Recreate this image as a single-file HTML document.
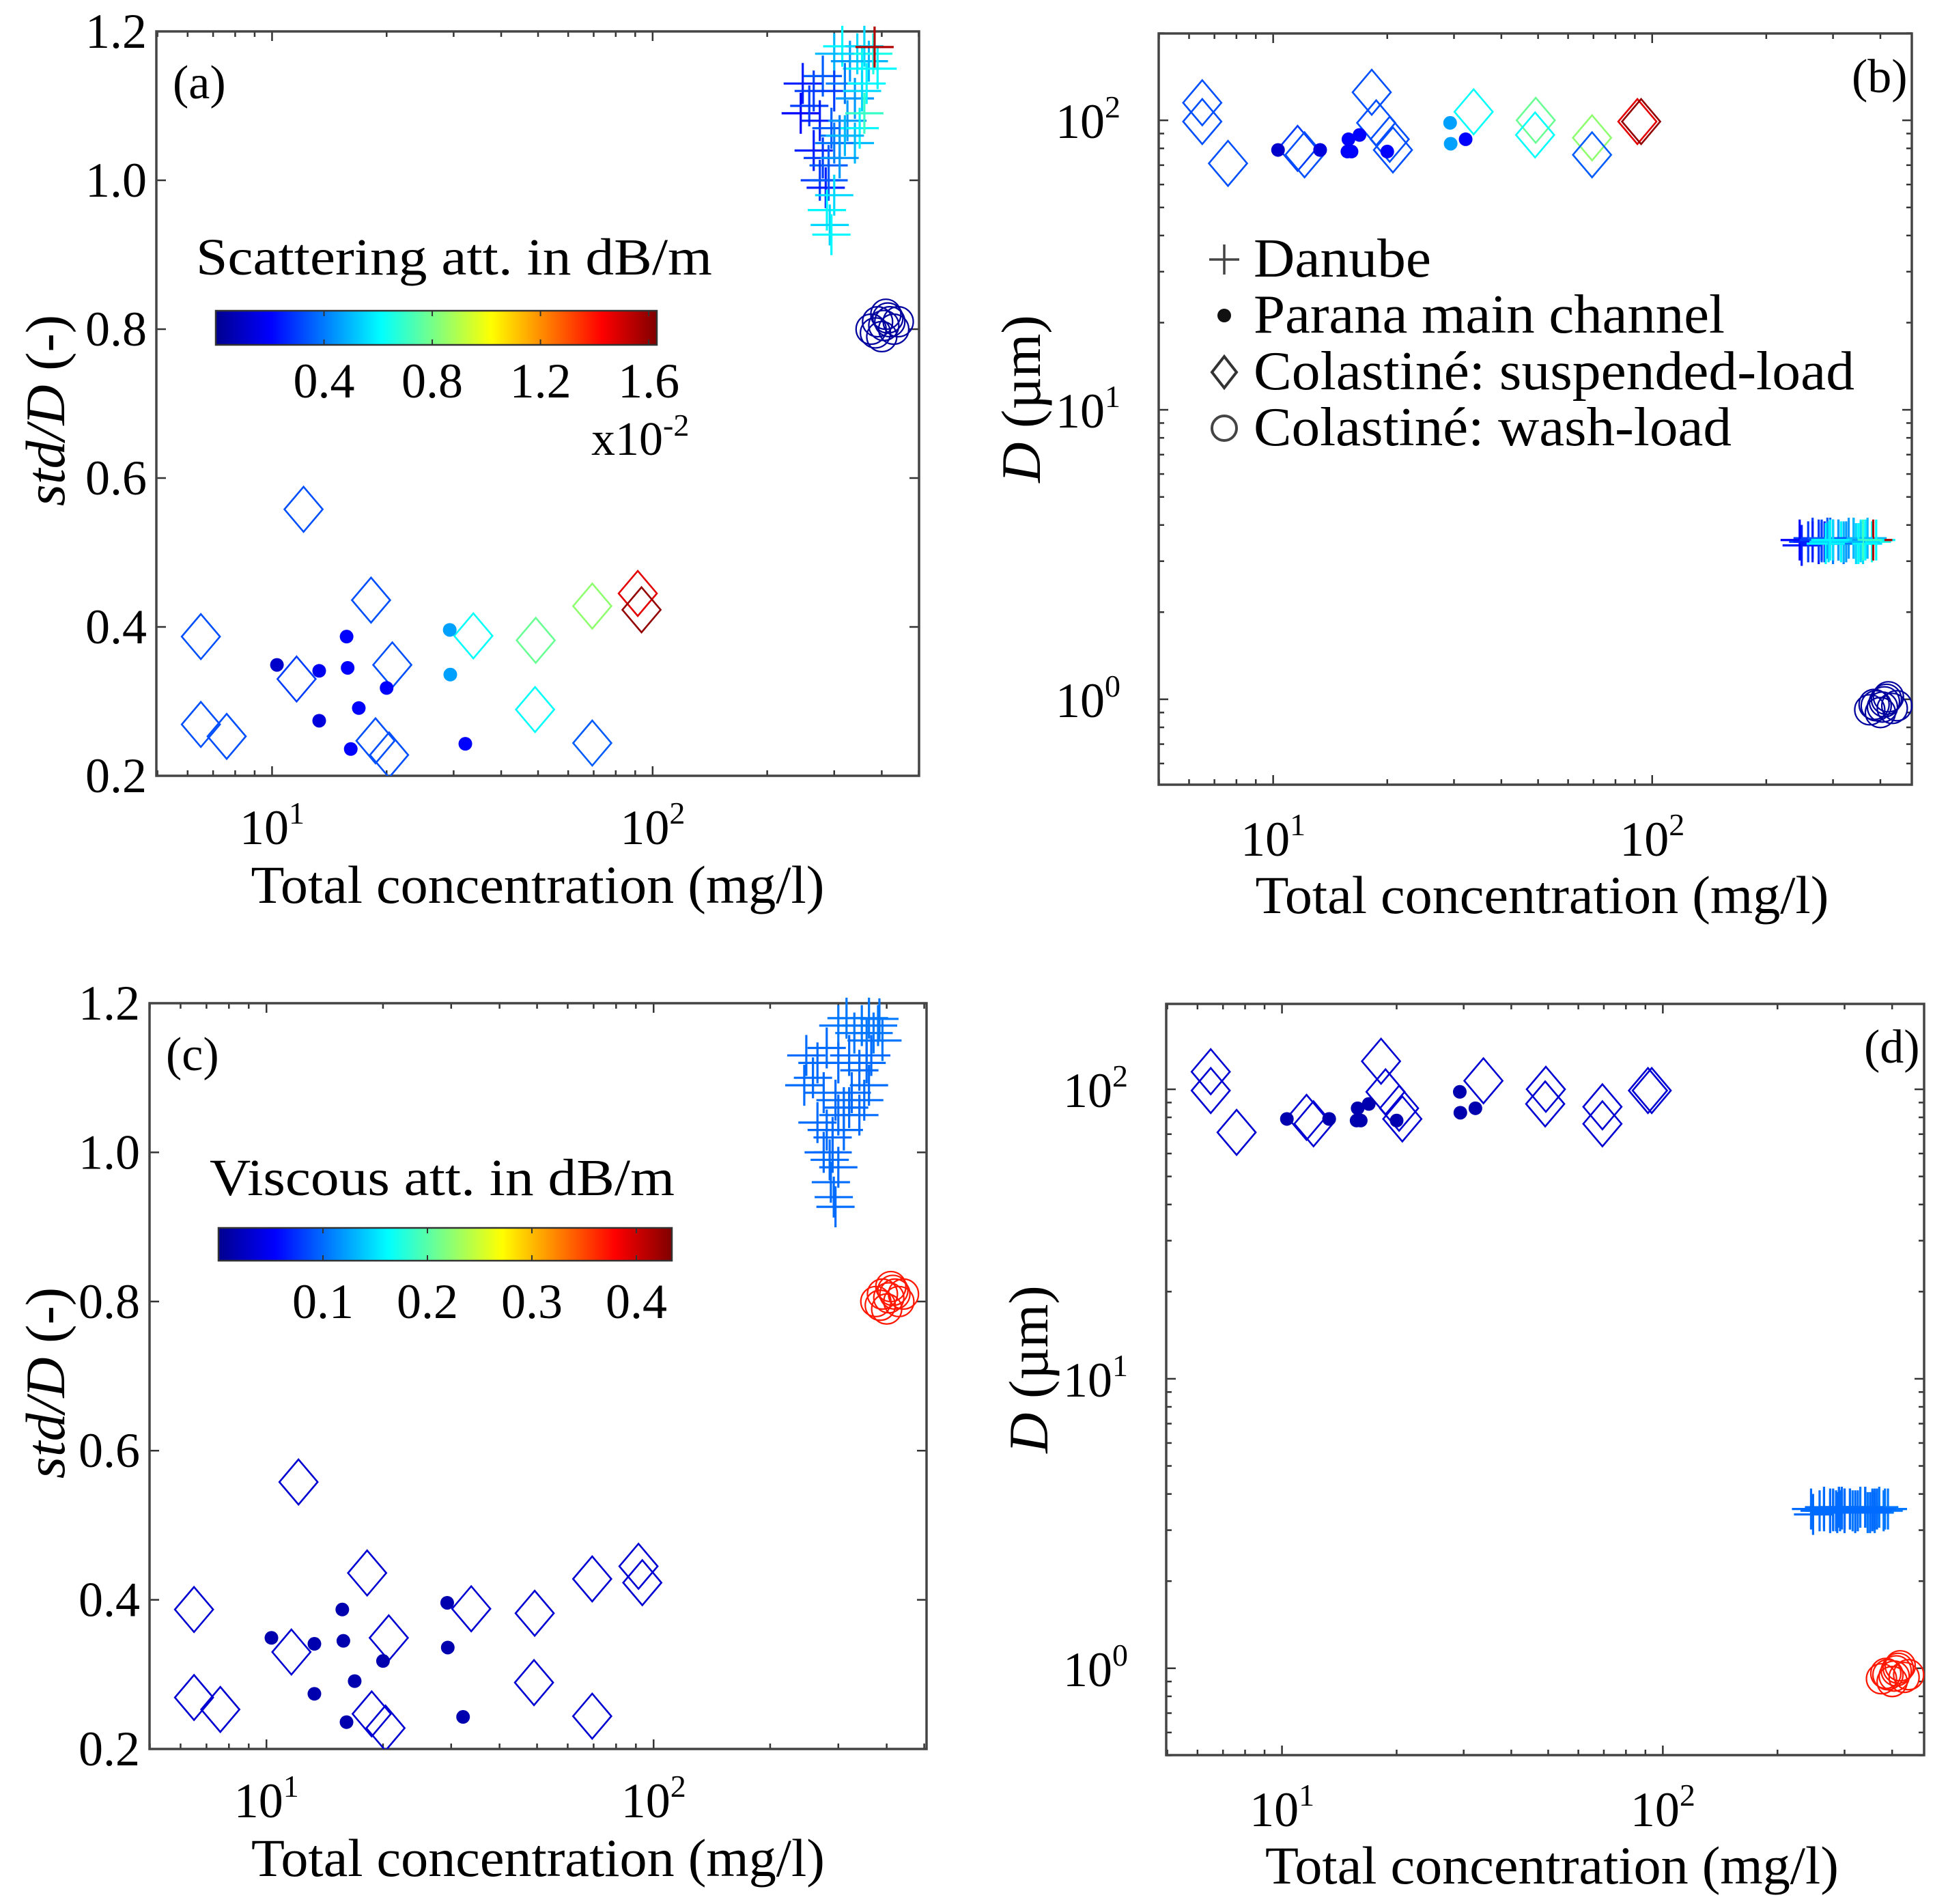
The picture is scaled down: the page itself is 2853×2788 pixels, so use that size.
<!DOCTYPE html>
<html><head><meta charset="utf-8"><style>
html,body{margin:0;padding:0;background:#fff}
svg{display:block}
text{font-family:"Liberation Serif",serif;fill:#000}
</style></head><body>
<svg id="fig" xmlns="http://www.w3.org/2000/svg" width="2853" height="2788" viewBox="0 0 2853 2788">
<defs>
<linearGradient id="jet" x1="0" x2="1" y1="0" y2="0">
<stop offset="0" stop-color="#00008f"/><stop offset="0.125" stop-color="#0000ff"/><stop offset="0.375" stop-color="#00ffff"/><stop offset="0.625" stop-color="#ffff00"/><stop offset="0.875" stop-color="#ff0000"/><stop offset="1" stop-color="#800000"/>
</linearGradient>
</defs>
<g id="layer"></g>
</svg>
<script>
// ---- data ----
const danX=[300,315,330,345,355,370,380,390,360,383, 248,265,280,300,320,340,355,365, 245,258,275,295,310,325,340,350,360, 265,280,290,300,310,320, 275,285,290,300,287,292,295];
const danStd=[1.17,1.18,1.16,1.17,1.15,1.16,1.17,1.15,1.18,1.179, 1.13,1.12,1.14,1.12,1.13,1.11,1.12,1.13, 1.09,1.10,1.08,1.07,1.06,1.08,1.05,1.07,1.09, 1.04,1.03,1.02,1.05,1.03,1.06, 1.00,0.99,1.00,0.98,0.96,0.94,0.927];
const danD=[3.55,3.5,3.6,3.45,3.55,3.6,3.5,3.55,3.45,3.55, 3.4,3.6,3.5,3.55,3.45,3.6,3.5,3.55, 3.55,3.5,3.45,3.6,3.55,3.5,3.6,3.45,3.55, 3.5,3.55,3.6,3.45,3.55,3.5, 3.55,3.5,3.6,3.55,3.45,3.5,3.55];
const danScat=[0.5,0.6,0.45,0.55,0.6,0.5,0.65,0.6,0.55,1.55, 0.25,0.3,0.35,0.3,0.4,0.45,0.55,0.6, 0.2,0.3,0.25,0.35,0.4,0.45,0.5,0.6,0.7, 0.25,0.3,0.35,0.4,0.45,0.5, 0.3,0.25,0.35,0.55,0.6,0.55,0.6];
const danVisc=[0.105,0.105,0.105,0.105,0.105,0.105,0.105,0.105,0.105,0.105, 0.1,0.1,0.1,0.1,0.1,0.1,0.1,0.1, 0.1,0.1,0.1,0.1,0.1,0.1,0.1,0.1,0.1, 0.1,0.1,0.1,0.1,0.1,0.1, 0.1,0.1,0.1,0.1,0.1,0.1,0.1];
const parX=[10.3,13.3,13.3,15.7,15.8,16.1,16.9,20.0,29.3,29.4,32.2];
const parStd=[0.349,0.341,0.274,0.387,0.345,0.236,0.291,0.318,0.396,0.336,0.243];
const parD=[79,79,79,78,86,78,89,78,98,83,86];
const parScat=[0.12,0.18,0.15,0.2,0.2,0.2,0.2,0.2,0.46,0.46,0.2];
const parVisc=[0.02,0.02,0.02,0.02,0.02,0.02,0.02,0.02,0.02,0.02,0.02];
const susX=[6.5,6.5,7.6,11.6,12.1,18.2,20.7,18.7,20.3,33.8,49.3,49.1,69.4,69.4,91.4,93.5];
const susStd=[0.387,0.269,0.253,0.330,0.558,0.436,0.349,0.247,0.228,0.388,0.382,0.289,0.428,0.244,0.445,0.423];
const susD=[115,99,71,80,76,125,79,98,86,107,100,89,87,76,99,99];
const susScat=[0.33,0.33,0.33,0.3,0.33,0.33,0.33,0.33,0.33,0.62,0.78,0.62,0.84,0.35,1.47,1.6];
const susVisc=[0.035,0.035,0.035,0.035,0.035,0.035,0.035,0.035,0.035,0.035,0.035,0.035,0.035,0.035,0.035,0.035];
const wlX=[375,390,400,410,420,430,385,405,415,442];
const wlStd=[0.80,0.81,0.79,0.82,0.81,0.80,0.795,0.805,0.815,0.81];
const wlD=[0.92,0.95,0.90,0.98,1.02,0.93,0.96,0.94,1.0,0.95];
const wlScat=[0.05,0.05,0.05,0.05,0.05,0.05,0.05,0.05,0.05,0.05];
const wlVisc=[0.37,0.37,0.37,0.37,0.37,0.37,0.37,0.37,0.37,0.37];
const linTicks=["0.2","0.4","0.6","0.8","1.0","1.2"];
const scatTicks=["0.4","0.8","1.2","1.6"];
const viscTicks=["0.1","0.2","0.3","0.4"];

const NS="http://www.w3.org/2000/svg";
const root=document.getElementById('layer');
function el(tag,attrs,parent){const e=document.createElementNS(NS,tag);for(const k in attrs)e.setAttribute(k,attrs[k]);(parent||root).appendChild(e);return e;}
function jet(t){t=Math.max(0,Math.min(1,t));
 const r=Math.max(0,Math.min(1,Math.min(4*t-1.5,-4*t+4.5)));
 const g=Math.max(0,Math.min(1,Math.min(4*t-0.5,-4*t+3.5)));
 const b=Math.max(0,Math.min(1,Math.min(4*t+0.5,-4*t+2.5)));
 return `rgb(${Math.round(r*255)},${Math.round(g*255)},${Math.round(b*255)})`;}

const panels=[
 {id:'a',x0:229,x1:1346,y0:46,y1:1136,lx0:0.696,lx1:2.70,log:false,ylo:0.2,yhi:1.2,cmax:1.63,cv:'scat'},
 {id:'b',x0:1697,x1:2800,y0:49,y1:1149,lx0:0.698,lx1:2.685,log:true,ylo:-0.295,yhi:2.30,cmax:1.63,cv:'scat'},
 {id:'c',x0:219,x1:1357,y0:1469,y1:2561,lx0:0.698,lx1:2.705,log:false,ylo:0.2,yhi:1.2,cmax:0.434,cv:'visc'},
 {id:'d',x0:1708,x1:2818,y0:1470,y1:2570,lx0:0.696,lx1:2.686,log:true,ylo:-0.30,yhi:2.295,cmax:0.434,cv:'visc'}
];

panels.forEach(p=>{
 const g=el('g',{});
 
 
 const X=v=>p.x0+(Math.log10(v)-p.lx0)/(p.lx1-p.lx0)*(p.x1-p.x0);
 const Y=v=>{const t=p.log?Math.log10(v):v;return p.y1-(t-p.ylo)/(p.yhi-p.ylo)*(p.y1-p.y0);};
 const cp=el('clipPath',{id:'clip'+p.id},g);
 el('rect',{x:p.x0,y:p.y0-30,width:p.x1-p.x0+10,height:p.y1-p.y0+30},cp);
 const xt=[];for(let d=1;d<=100;d*=10)for(let m=1;m<=9;m++)xt.push(m*d);
 xt.forEach(v=>{const x=X(v);if(x<p.x0||x>p.x1)return;const L=(v===10||v===100)?14:8;
  el('line',{x1:x,x2:x,y1:p.y1,y2:p.y1-L,stroke:'#333','stroke-width':2.5},g);
  el('line',{x1:x,x2:x,y1:p.y0,y2:p.y0+L,stroke:'#333','stroke-width':2.5},g);});
 [10,100].forEach((v,i)=>{const t=el('text',{x:X(v),y:p.y1+(p.id==='a'||p.id==='c'?100:104),'text-anchor':'middle','font-size':72},g);
  
  t.innerHTML='10<tspan dy="-30" font-size="46">'+(i+1)+'</tspan>';});
 if(!p.log){
  linTicks.forEach(s=>{const v=parseFloat(s),y=Y(v);
   el('line',{x1:p.x0,x2:p.x0+14,y1:y,y2:y,stroke:'#333','stroke-width':2.5},g);
   el('line',{x1:p.x1,x2:p.x1-14,y1:y,y2:y,stroke:'#333','stroke-width':2.5},g);
   const t=el('text',{x:p.x0-14,y:y+24,'text-anchor':'end','font-size':72},g);t.textContent=s;
   });
 } else {
  const yt=[];for(let d=0.1;d<=100;d*=10)for(let m=1;m<=9;m++)yt.push(m*d);
  yt.forEach(v=>{const y=Y(v);if(y<p.y0-1||y>p.y1+1)return;const maj=[1,10,100].some(q=>Math.abs(v-q)<1e-6);const L=maj?14:8;
   el('line',{x1:p.x0,x2:p.x0+L,y1:y,y2:y,stroke:'#333','stroke-width':2.5},g);
   el('line',{x1:p.x1,x2:p.x1-L,y1:y,y2:y,stroke:'#333','stroke-width':2.5},g);});
  [1,10,100].forEach((v,i)=>{const t=el('text',{x:p.x0-56,y:Y(v)+26,'text-anchor':'end','font-size':72},g);
   
   t.innerHTML='10<tspan dy="-30" font-size="46">'+i+'</tspan>';});
 }
 const fr=el('rect',{x:p.x0,y:p.y0,width:p.x1-p.x0,height:p.y1-p.y0,fill:'none',stroke:'#444','stroke-width':3.5},g);
 
 const xtT=el('text',{x:(p.x0+p.x1)/2+(p.log?10:0),y:p.y1+(p.log?188:186),'text-anchor':'middle','font-size':78,textLength:840,lengthAdjust:'spacingAndGlyphs'},g);
 xtT.textContent='Total concentration (mg/l)';
 
 const cy=(p.y0+p.y1)/2+(p.log?-15:10);const cx=p.log?p.x0-200:68;
 const yt=el('text',{x:cx,y:cy,'text-anchor':'middle','font-size':82,transform:`rotate(-90 ${cx} ${cy}) translate(0 26)`},g);
 
 yt.innerHTML=p.log?'<tspan font-style="italic">D</tspan> (µm)':'<tspan font-style="italic">std/D</tspan> (-)';
 const lab=el('text',{x:p.log?p.x1-88:p.x0+24,y:p.y0+(p.log?86:98),'font-size':70},g);
 lab.textContent='('+p.id+')';

 const col=v=>jet(v/p.cmax);
 const mk=el('g',{'clip-path':`url(#clip${p.id})`},g);
 susX.forEach((x,i)=>{const cx=X(x),cy=Y(p.log?susD[i]:susStd[i]);const c=col(p.cv==='scat'?susScat[i]:susVisc[i]);
  const d=el('path',{d:`M${cx} ${cy-33}L${cx+28} ${cy}L${cx} ${cy+33}L${cx-28} ${cy}Z`,fill:'none',stroke:c,'stroke-width':2.6},mk);
  });
 parX.forEach((x,i)=>{const c=col(p.cv==='scat'?parScat[i]:parVisc[i]);
  const d=el('circle',{cx:X(x),cy:Y(p.log?parD[i]:parStd[i]),r:10,fill:c},mk);
  });
 danX.forEach((x,i)=>{const cx=X(x),cy=Y(p.log?danD[i]:danStd[i]);const c=col(p.cv==='scat'?danScat[i]:danVisc[i]);
  const d=el('path',{d:`M${cx-28} ${cy}H${cx+28}M${cx} ${cy-30}V${cy+30}`,stroke:c,'stroke-width':3.2},mk);
  });
 wlX.forEach((x,i)=>{const c=col(p.cv==='scat'?wlScat[i]:wlVisc[i]);
  const d=el('circle',{cx:X(x),cy:Y(p.log?wlD[i]:wlStd[i]),r:22,fill:'none',stroke:c,'stroke-width':2.2},mk);
  });

 if(p.id==='a'||p.id==='c'){
  const cb=p.id==='a'?{x0:316,x1:962,y0:455,y1:505,ty:582,title:'Scattering att. in dB/m',tx:287,tyy:402,tw:756,ticks:scatTicks}
                     :{x0:320,x1:984,y0:1798,y1:1846,ty:1930,title:'Viscous att. in dB/m',tx:307,tyy:1750,tw:681,ticks:viscTicks};
  const tt=el('text',{x:cb.tx,y:cb.tyy,'font-size':76,textLength:cb.tw,lengthAdjust:'spacingAndGlyphs'},g);
  tt.textContent=cb.title;
  const r=el('rect',{x:cb.x0,y:cb.y0,width:cb.x1-cb.x0,height:cb.y1-cb.y0,fill:'url(#jet)',stroke:'#333','stroke-width':2.5},g);
  
  cb.ticks.forEach(s=>{const x=cb.x0+parseFloat(s)/p.cmax*(cb.x1-cb.x0);
   el('line',{x1:x,x2:x,y1:cb.y0,y2:cb.y0+8,stroke:'#333','stroke-width':2},g);
   el('line',{x1:x,x2:x,y1:cb.y1,y2:cb.y1-8,stroke:'#333','stroke-width':2},g);
   const t=el('text',{x:x,y:cb.ty,'text-anchor':'middle','font-size':72},g);t.textContent=s;
   });
  if(p.id==='a'){const t=el('text',{x:866,y:666,'font-size':70},g);t.innerHTML='x10<tspan dy="-28" font-size="46">-2</tspan>';
   }
 }
 if(p.id==='b'){
  const lg=el('g',{},g);
  const items=['Danube','Parana main channel','Colastiné: suspended-load','Colastiné: wash-load'];
  const by=[405,487,570,652];
  const tl=[260,690,880,700];
  items.forEach((s,i)=>{const t=el('text',{x:1836,y:by[i],'font-size':80,textLength:tl[i],lengthAdjust:'spacingAndGlyphs'},lg);t.textContent=s;
   
   const mx=1793,my=by[i]-25;
   if(i===0)el('path',{d:`M${mx-22} ${my}H${mx+22}M${mx} ${my-22}V${my+22}`,stroke:'#444','stroke-width':3.5},lg);
   if(i===1)el('circle',{cx:mx,cy:my,r:10,fill:'#111'},lg);
   if(i===2)el('path',{d:`M${mx} ${my-23}L${mx+18} ${my}L${mx} ${my+23}L${mx-18} ${my}Z`,fill:'none',stroke:'#333','stroke-width':4},lg);
   if(i===3)el('circle',{cx:mx,cy:my,r:18,fill:'none',stroke:'#444','stroke-width':4},lg);});
 }
});
</script>
</body></html>
